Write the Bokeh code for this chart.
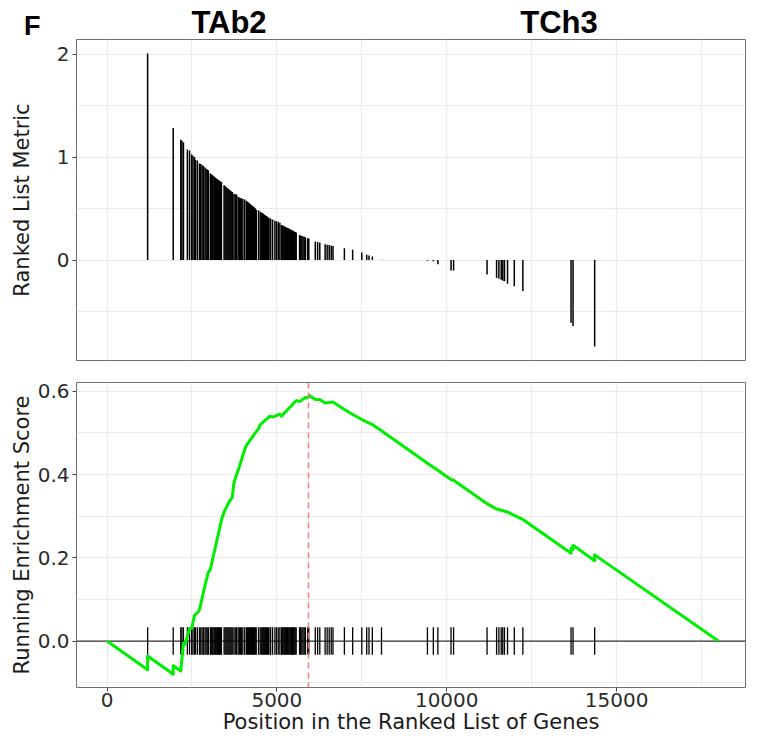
from bokeh.plotting import figure
from bokeh.models import FixedTicker, Span, Range1d, Div
from bokeh.layouts import column
from bokeh.embed import file_html
from bokeh.resources import INLINE

# ---------------- data ----------------
n_genes = 18000
peak_rank = 5930

hit_rank = [1196, 1949,
            2172, 2205, 2250,
            2366, 2430,
            2491, 2530, 2575,
            2606, 2660,
            2722, 2760, 2800, 2840, 2885,
            2916, 2950, 2983,
            3041, 3070, 3095, 3120, 3150, 3175, 3200, 3230, 3255, 3285, 3310, 3340, 3368,
            3446, 3475, 3505, 3535, 3565, 3595, 3625, 3655, 3687,
            3736, 3775, 3814,
            3860, 3895, 3930, 3965, 4000, 4054,
            4104, 4135, 4165, 4195, 4225, 4255, 4285, 4315, 4340, 4364,
            4393, 4460,
            4509, 4540, 4570, 4600, 4630, 4660, 4690, 4720, 4750, 4799,
            4816, 4874,
            4943, 4990, 5040, 5088,
            5135, 5160, 5185, 5210, 5235, 5260, 5285, 5310, 5335, 5360, 5385, 5410,
            5435, 5460, 5485, 5510, 5540, 5569,
            5668, 5700, 5735, 5770, 5805, 5841,
            5908, 5940,
            6131, 6200, 6264,
            6420, 6480, 6540, 6600, 6652,
            6988, 7231,
            7500, 7645, 7712, 7810,
            8080,
            9432, 9606, 9739,
            10127, 10202,
            11187, 11468, 11536, 11604, 11650, 11700, 11790, 11989, 12241,
            13660, 13718, 14355]

hit_metric = [2.01, 1.285,
              1.17, 1.16, 1.147,
              1.076, 1.066,
              1.027, 1.015, 1.002,
              0.976, 0.969,
              0.94, 0.935, 0.925, 0.915, 0.90,
              0.889, 0.88, 0.873,
              0.841, 0.835, 0.828, 0.82, 0.812, 0.805, 0.798, 0.79, 0.784, 0.778, 0.771, 0.765, 0.76,
              0.728, 0.72, 0.71, 0.702, 0.694, 0.686, 0.677, 0.67, 0.663,
              0.645, 0.641, 0.637,
              0.615, 0.61, 0.605, 0.6, 0.595, 0.589,
              0.576, 0.568, 0.56, 0.551, 0.543, 0.535, 0.527, 0.518, 0.51, 0.502,
              0.49, 0.486,
              0.47, 0.464, 0.457, 0.45, 0.443, 0.436, 0.428, 0.421, 0.414, 0.406,
              0.4, 0.396,
              0.383, 0.377, 0.37, 0.364,
              0.341, 0.337, 0.333, 0.329, 0.325, 0.321, 0.317, 0.313, 0.309, 0.305, 0.3, 0.296,
              0.292, 0.288, 0.283, 0.279, 0.274, 0.268,
              0.244, 0.24, 0.235, 0.23, 0.226, 0.222,
              0.213, 0.211,
              0.181, 0.176, 0.171,
              0.155, 0.15, 0.146, 0.142, 0.138,
              0.116, 0.1,
              0.074, 0.052, 0.046, 0.036,
              0.004,
              -0.007, -0.01, -0.04,
              -0.1, -0.1,
              -0.14, -0.175, -0.18, -0.19, -0.2, -0.205, -0.23, -0.255, -0.3,
              -0.61, -0.64, -0.84]

es_rank = [0, 1196, 1196, 1949, 1949, 2172, 2250, 2300, 2366, 2433,
           2491, 2577, 2664, 2722, 2887, 2983, 3041, 3368, 3446, 3600,
           3687, 3736, 3814, 3860, 4054, 4104, 4364, 4460, 4509, 4799,
           4874, 4943, 5088, 5135, 5569, 5668, 5841, 5908, 5957, 6131,
           6264, 6420, 6652, 6988, 7231, 7500, 7810, 8080, 9432, 9739,
           10127, 10202, 11187, 11468, 11790, 11989, 12241, 13660, 13660, 13718,
           13718, 14355, 14355, 18000]
es_score = [0.0, -0.069, -0.036, -0.080, -0.059, -0.072, -0.005, -0.008, 0.012, 0.030,
            0.030, 0.062, 0.068, 0.075, 0.135, 0.165, 0.172, 0.29, 0.31, 0.335,
            0.345, 0.38, 0.40, 0.41, 0.46, 0.47, 0.50, 0.51, 0.52, 0.54,
            0.538, 0.54, 0.545, 0.54, 0.578, 0.575, 0.585, 0.584, 0.59, 0.58,
            0.58, 0.572, 0.574, 0.556, 0.544, 0.532, 0.52, 0.505, 0.427, 0.41,
            0.388, 0.386, 0.33, 0.317, 0.31, 0.302, 0.292, 0.211, 0.223, 0.220,
            0.230, 0.193, 0.207, 0.0]

x_ticks = [0, 5000, 10000, 15000]
x_minor = [2500, 7500, 12500, 17500]
metric_ticks = [0, 1, 2]
metric_minor = [-0.5, 0.5, 1.5]
es_ticks = [0.0, 0.2, 0.4, 0.6]
es_tick_labels = ["0.0", "0.2", "0.4", "0.6"]
es_minor = [-0.1, 0.1, 0.3, 0.5]
panel_label = "F"
group_labels = ["TAb2", "TCh3"]

FONT = "DejaVu Sans"
GRID = "#EBEBEB"


def style(p, ylabel, ystandoff):
    p.background_fill_color = "white"
    p.border_fill_color = "white"
    p.outline_line_color = "#6E6E6E"
    p.outline_line_width = 1
    for g in (p.xgrid, p.ygrid):
        g.grid_line_color = GRID
        g.grid_line_width = 1.2
        g.minor_grid_line_color = GRID
        g.minor_grid_line_width = 1.0
    for ax in (p.xaxis, p.yaxis):
        ax.axis_line_color = None
        ax.major_tick_line_color = "#444444"
        ax.major_tick_in = 0
        ax.major_tick_out = 4
        ax.minor_tick_line_color = None
        ax.major_label_text_font = FONT
        ax.major_label_text_font_size = "20px"
        ax.major_label_text_color = "#2B2B2B"
        ax.axis_label_text_font = FONT
        ax.axis_label_text_font_size = "21px"
        ax.axis_label_text_font_style = "normal"
        ax.axis_label_text_color = "#1A1A1A"
    p.yaxis.major_label_standoff = 3
    p.yaxis.axis_label = ylabel
    p.yaxis.axis_label_standoff = ystandoff


x_range = Range1d(-898, 18795)

# ---------------- header (panel letter + group names) ----------------
span_style = ("position:absolute;font-family:'Liberation Sans',Arial,sans-serif;"
              "font-weight:bold;color:black;white-space:nowrap;")
header_html = (
    '<div style="position:relative;width:746px;height:38px;overflow:visible;">'
    f'<span style="{span_style}left:24px;top:13px;font-size:27px;line-height:27px;">{panel_label}</span>'
    f'<span style="{span_style}left:179px;width:100px;text-align:center;top:7px;'
    f'font-size:31px;line-height:31px;">{group_labels[0]}</span>'
    f'<span style="{span_style}left:509px;width:100px;text-align:center;top:7px;'
    f'font-size:31px;line-height:31px;">{group_labels[1]}</span>'
    '</div>'
)
header = Div(text=header_html, width=746, height=38, margin=0)

# ---------------- top panel: ranked list metric ----------------
p1 = figure(width=746, height=333, x_range=x_range, y_range=Range1d(-0.976, 2.145),
            output_backend="svg", toolbar_location=None,
            min_border_left=76, min_border_right=1, min_border_top=1, min_border_bottom=11)
style(p1, "Ranked List Metric", 20)
p1.xaxis.ticker = FixedTicker(ticks=x_ticks, minor_ticks=x_minor)
p1.yaxis.ticker = FixedTicker(ticks=metric_ticks, minor_ticks=metric_minor)
p1.xaxis.visible = False
p1.segment(x0=hit_rank, y0=[0] * len(hit_rank), x1=hit_rank, y1=hit_metric,
           line_color="black", line_width=1.5)

# ---------------- bottom panel: running enrichment score ----------------
p2 = figure(width=746, height=369, x_range=x_range, y_range=Range1d(-0.1116, 0.621),
            output_backend="svg", toolbar_location=None,
            min_border_left=76, min_border_right=1, min_border_top=11, min_border_bottom=53)
style(p2, "Running Enrichment Score", 1)
p2.xaxis.ticker = FixedTicker(ticks=x_ticks, minor_ticks=x_minor)
p2.yaxis.ticker = FixedTicker(ticks=es_ticks, minor_ticks=es_minor)
p2.yaxis.major_label_overrides = {t: l for t, l in zip(es_ticks, es_tick_labels)}
p2.xaxis.axis_label = "Position in the Ranked List of Genes"
p2.xaxis.major_label_standoff = 1
p2.xaxis.axis_label_standoff = 0

p2.add_layout(Span(location=0, dimension="width", line_color="#333333",
                   line_width=1.3, level="underlay"))
p2.segment(x0=hit_rank, y0=[-0.033] * len(hit_rank), x1=hit_rank, y1=[0.033] * len(hit_rank),
           line_color="black", line_width=1.3)
p2.line(es_rank, es_score, line_color="#00EE00", line_width=3, line_join="round")
p2.add_layout(Span(location=peak_rank, dimension="height", line_color="#F47C7C",
                   line_width=1.5, line_dash="6 4"))

layout = column(header, p1, p2, spacing=0)

open("out.html", "w").write(file_html(layout, INLINE))
